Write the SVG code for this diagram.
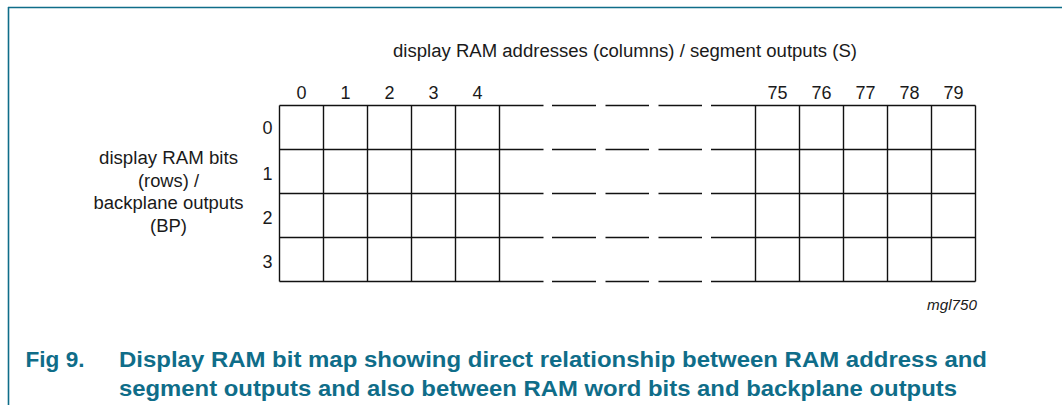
<svg xmlns="http://www.w3.org/2000/svg" width="1062" height="405" viewBox="0 0 1062 405">
<style>
.t{font-family:"Liberation Sans",Arial,sans-serif;font-size:18px;fill:#1a1a1a}
.m{text-anchor:middle}
.g{stroke:#111;stroke-width:1.4;fill:none}
.cap{font-family:"Liberation Sans",Arial,sans-serif;font-size:22.5px;font-weight:bold;fill:#0f6d89}
.frame{stroke:#0f6d89;stroke-width:1.6;fill:none}
</style>
<rect width="1062" height="405" fill="#fff"/>
<g id="frame"><path class="frame" d="M8,7.5 H1062 M8.5,7 V405"/></g>
<g id="title"><text class="t" x="393" y="56.5" textLength="464" lengthAdjust="spacingAndGlyphs">display RAM addresses (columns) / segment outputs (S)</text></g>
<g id="grid">
<path class="g" d="M279.5,105.5 H543.5 M279.5,149.5 H543.5 M279.5,193.5 H543.5 M279.5,237.5 H543.5 M279.5,281.5 H543.5"/>
<path class="g" d="M552,105.5 H596 M605.5,105.5 H649 M658.5,105.5 H702 M552,149.5 H596 M605.5,149.5 H649 M658.5,149.5 H702 M552,193.5 H596 M605.5,193.5 H649 M658.5,193.5 H702 M552,237.5 H596 M605.5,237.5 H649 M658.5,237.5 H702 M552,281.5 H596 M605.5,281.5 H649 M658.5,281.5 H702"/>
<path class="g" d="M711,105.5 H975.5 M711,149.5 H975.5 M711,193.5 H975.5 M711,237.5 H975.5 M711,281.5 H975.5"/>
<path class="g" d="M279.5,105.5 V281.5 M323.5,105.5 V281.5 M367.5,105.5 V281.5 M411.5,105.5 V281.5 M455.5,105.5 V281.5 M499.5,105.5 V281.5 M755.5,105.5 V281.5 M799.5,105.5 V281.5 M843.5,105.5 V281.5 M887.5,105.5 V281.5 M931.5,105.5 V281.5 M975.5,105.5 V281.5"/>
</g>
<g id="col-labels" class="t m">
<text x="301.5" y="99">0</text><text x="345.5" y="99">1</text><text x="389.5" y="99">2</text><text x="433.5" y="99">3</text><text x="477.5" y="99">4</text>
<text x="777.5" y="99">75</text><text x="821.5" y="99">76</text><text x="865.5" y="99">77</text><text x="909.5" y="99">78</text><text x="953.5" y="99">79</text>
</g>
<g id="row-labels" class="t m">
<text x="267.5" y="134">0</text><text x="267.5" y="180">1</text><text x="267.5" y="224">2</text><text x="267.5" y="268">3</text>
</g>
<g id="row-title" class="t m">
<text x="168.5" y="163.5" textLength="139" lengthAdjust="spacingAndGlyphs">display RAM bits</text>
<text x="168.5" y="186.5" textLength="61" lengthAdjust="spacingAndGlyphs">(rows) /</text>
<text x="168.5" y="209" textLength="150" lengthAdjust="spacingAndGlyphs">backplane outputs</text>
<text x="168.5" y="232" textLength="37" lengthAdjust="spacingAndGlyphs">(BP)</text>
</g>
<g id="code"><text x="977" y="310" text-anchor="end" textLength="50" lengthAdjust="spacingAndGlyphs" style="font-family:'Liberation Sans',Arial,sans-serif;font-size:14.5px;font-style:italic;fill:#1a1a1a">mgl750</text></g>
<g id="caption">
<text class="cap" x="25.5" y="366.5" textLength="59" lengthAdjust="spacingAndGlyphs">Fig 9.</text>
<text class="cap" x="119" y="366.5" textLength="868" lengthAdjust="spacingAndGlyphs">Display RAM bit map showing direct relationship between RAM address and</text>
<text class="cap" x="119" y="396" textLength="838" lengthAdjust="spacingAndGlyphs">segment outputs and also between RAM word bits and backplane outputs</text>
</g>
</svg>
